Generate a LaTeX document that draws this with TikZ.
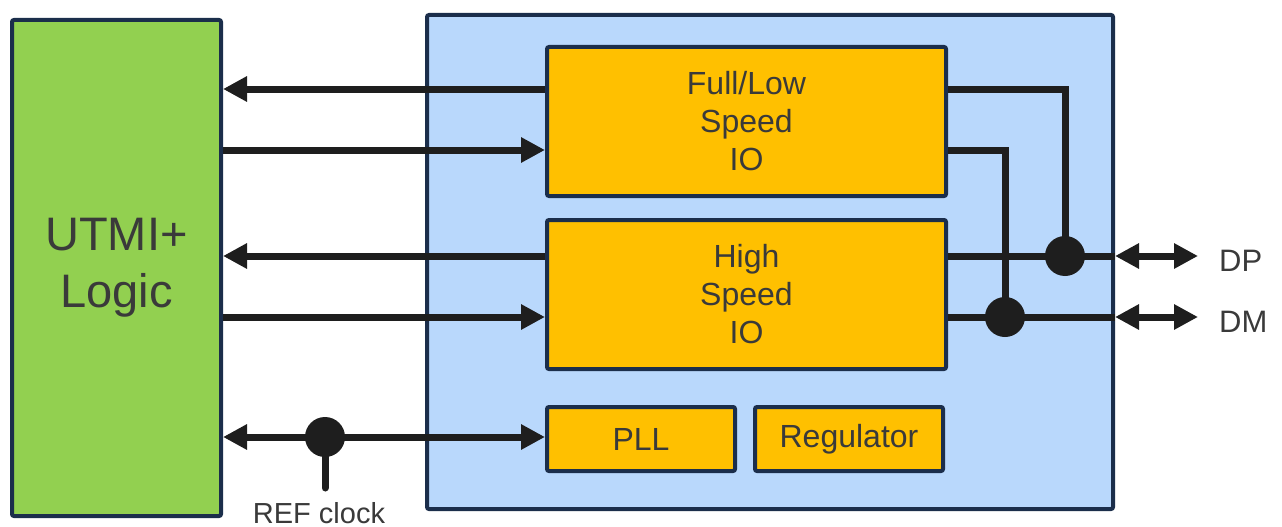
\documentclass[tikz,border=0pt]{standalone}
\usepackage{fontspec}
\setmainfont{Liberation Sans}
\usetikzlibrary{arrows.meta}
\definecolor{navy}{HTML}{1B2E4B}
\definecolor{gfill}{HTML}{92D050}
\definecolor{bfill}{HTML}{B9D8FC}
\definecolor{ofill}{HTML}{FFC000}
\definecolor{wire}{HTML}{1E1E1E}
\definecolor{txt}{HTML}{3A3A3A}
\begin{document}
\begin{tikzpicture}[x=1pt,y=-1pt,
  box/.style={draw=navy,line width=4pt,rounded corners=2pt,anchor=north west,inner sep=0pt,text=txt,align=center},
  gbox/.style={box,fill=gfill},
  bbox/.style={box,fill=bfill},
  obox/.style={box,fill=ofill,font=\fontsize{32}{38}\selectfont},
  wireline/.style={draw=wire,line width=7pt},
  arr/.style={wireline,-{Triangle[length=24pt,width=24pt]}},
  darr/.style={wireline,{Triangle[length=24pt,width=24pt]}-{Triangle[length=24pt,width=24pt]}},
  dot/.style={circle,fill=wire,minimum size=40pt,inner sep=0pt},
  lbl/.style={text=txt,inner sep=0pt}]
\useasboundingbox (0,0) rectangle (1282,527);
\node[gbox,minimum width=209pt,minimum height=496pt,font=\fontsize{47}{57}\selectfont] (utmi) at (10,18) {UTMI+\\Logic};
\node[bbox,minimum width=686pt,minimum height=494pt] (phy) at (425,13) {};
\node[obox,minimum width=399pt,minimum height=149pt] (fl) at (545,45) {Full/Low\\Speed\\IO};
\node[obox,minimum width=399pt,minimum height=149pt] (hs) at (545,218) {High\\Speed\\IO};
\node[obox,minimum width=188pt,minimum height=64pt] (pll) at (545,405) {PLL};
\node[obox,minimum width=188pt,minimum height=64pt] (reg) at (753,405) {Regulator};
\coordinate (r1) at (0,89);
\coordinate (r2) at (0,150);
\coordinate (r3) at (0,256);
\coordinate (r4) at (0,317);
\coordinate (r5) at (0,437);
\coordinate (cx1) at (1065,0);
\coordinate (cx2) at (1005,0);
\coordinate (cx3) at (325,0);
\coordinate (tipx) at (1198,0);
\coordinate (stem) at (325,488);
% left side
\draw[arr] (fl.west |- r1) -- (utmi.east |- r1);
\draw[arr] (utmi.east |- r2) -- (fl.west |- r2);
\draw[arr] (hs.west |- r3) -- (utmi.east |- r3);
\draw[arr] (utmi.east |- r4) -- (hs.west |- r4);
\draw[darr] (utmi.east |- r5) -- (pll.west |- r5);
\node[dot] (d3) at (cx3 |- r5) {};
\draw[wireline,line cap=round] (d3.center) -- (stem);
\node[lbl,font=\fontsize{29}{34}\selectfont,anchor=north] (ref) at (319,502) {REF clock};
% right side
\node[dot] (d1) at (cx1 |- r3) {};
\node[dot] (d2) at (cx2 |- r4) {};
\draw[wireline] (fl.east |- r1) -| (d1.center);
\draw[wireline] (fl.east |- r2) -| (d2.center);
\draw[wireline] (hs.east |- r3) -- (phy.east |- r3);
\draw[wireline] (hs.east |- r4) -- (phy.east |- r4);
\draw[darr] (phy.east |- r3) -- (tipx |- r3);
\draw[darr] (phy.east |- r4) -- (tipx |- r4);
\node[lbl,font=\fontsize{31}{36}\selectfont,anchor=west] (dp) at (1219,261) {DP};
\node[lbl,font=\fontsize{31}{36}\selectfont,anchor=west] (dm) at (1219,322) {DM};
\end{tikzpicture}
\end{document}
